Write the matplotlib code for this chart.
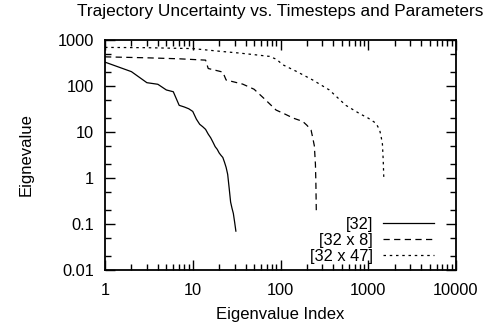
import matplotlib
matplotlib.use('Agg')

import matplotlib.pyplot as plt
from matplotlib.ticker import LogLocator, FixedLocator, NullFormatter

plt.rcParams['font.family'] = ['Liberation Sans', 'DejaVu Sans']

# [32] eigenvalues, index 1..31
idx_32 = list(range(1, 32))
eig_32 = [330, 205, 118, 109, 82, 75, 38, 35, 32, 28, 19, 14.7, 13, 11.4, 9,
          7.5, 6, 4.8, 4.2, 3.5, 3.1, 2.8, 2.2, 1.7, 1.2, 0.6, 0.3, 0.22,
          0.17, 0.11, 0.07]

# [32 x 8] eigenvalues
idx_32x8 = [1, 3, 7, 14, 15, 20, 22, 24, 37, 50, 66, 89, 110, 140, 179, 200,
            223, 233, 243, 250, 253, 256]
eig_32x8 = [430, 410, 390, 365, 240, 210, 200, 135, 110, 85, 52, 30, 25, 20,
            17, 14, 11, 7.5, 5, 2, 0.8, 0.17]

# [32 x 47] eigenvalues
idx_32x47 = [1, 3, 10, 20, 34, 50, 75, 90, 106, 150, 233, 360, 555, 800,
             1000, 1225, 1350, 1400, 1450, 1480, 1504]
eig_32x47 = [690, 680, 650, 570, 520, 480, 440, 380, 290, 210, 135, 82, 38,
             25, 20, 15.5, 11, 8, 5.5, 2.5, 1.0]

labels = ['[32]', '[32 x 8]', '[32 x 47]']


def main():
    fig = plt.figure(figsize=(4.97, 3.27), dpi=100)
    ax = fig.add_axes([0.2113, 0.1743, 0.7062, 0.7034])

    ax.plot(idx_32, eig_32, color='black', lw=0.9, label=labels[0])
    ax.plot(idx_32x8, eig_32x8, color='black', lw=0.9, dashes=(5, 3.5),
            label=labels[1])
    ax.plot(idx_32x47, eig_32x47, color='black', lw=0.9, dashes=(2, 3),
            label=labels[2])

    ax.set_xscale('log')
    ax.set_yscale('log')
    ax.set_xlim(1, 10000)
    ax.set_ylim(0.01, 1000)

    ax.xaxis.set_major_locator(FixedLocator([1, 10, 100, 1000, 10000]))
    ax.xaxis.set_minor_locator(LogLocator(base=10, subs=range(2, 10)))
    ax.yaxis.set_major_locator(FixedLocator([0.01, 0.1, 1, 10, 100, 1000]))
    ax.yaxis.set_minor_locator(LogLocator(base=10, subs=(2, 5)))
    ax.xaxis.set_minor_formatter(NullFormatter())
    ax.yaxis.set_minor_formatter(NullFormatter())
    ax.set_xticklabels(['1', '10', '100', '1000', '10000'])
    ax.set_yticklabels(['0.01', '0.1', '1', '10', '100', '1000'])

    ax.tick_params(which='both', direction='in', top=True, right=True,
                   labelsize=11.8, width=1)
    ax.tick_params(which='major', length=7)
    ax.tick_params(axis='x', which='major', pad=9)
    ax.tick_params(axis='y', which='major', pad=8)
    ax.tick_params(which='minor', length=4)
    for s in ax.spines.values():
        s.set_linewidth(1.3)

    ax.set_xlabel('Eigenvalue Index', fontsize=12, labelpad=7)
    ax.set_ylabel('Eignevalue', fontsize=12, labelpad=17)
    ax.set_title('Trajectory Uncertainty vs. Timesteps and Parameters',
                 fontsize=12.4, pad=17)

    ax.legend(loc='lower right', bbox_to_anchor=(0.96, -0.008), frameon=False,
              markerfirst=False, fontsize=11.8, handlelength=3.1,
              handletextpad=0.6, labelspacing=0.05, borderpad=0)

    fig.savefig('out.png', dpi=100)


if __name__ == "__main__":
    main()
